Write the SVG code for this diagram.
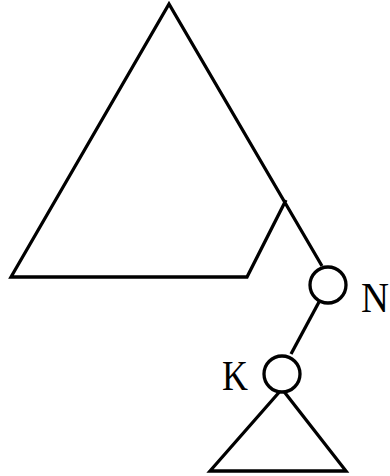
<svg xmlns="http://www.w3.org/2000/svg" width="390" height="476" viewBox="0 0 390 476">
<style>
.l{fill:none;stroke:#000;stroke-width:3.3;stroke-linejoin:miter}
.n{fill:#fff;stroke:#000;stroke-width:3.3}
.t{font-family:"Liberation Serif","DejaVu Serif",serif;font-size:42px;fill:#000}
</style>
<rect width="390" height="476" fill="#fff"/>
<g id="connectors">
<polyline class="l" points="322,266 169,4 11,277 247,277 286,200"/>
<line class="l" x1="319" y1="302" x2="291" y2="354"/>
</g>
<g id="subtree">
<polyline class="l" points="282,389 210,471 346,471 282,389"/>
</g>
<g id="node-N">
<circle class="n" cx="328" cy="285" r="18"/>
<text class="t" x="361" y="312" textLength="28" lengthAdjust="spacingAndGlyphs">N</text>
</g>
<g id="node-K">
<circle class="n" cx="282" cy="374" r="18"/>
<text class="t" x="222" y="390" textLength="26" lengthAdjust="spacingAndGlyphs">K</text>
</g>
</svg>
